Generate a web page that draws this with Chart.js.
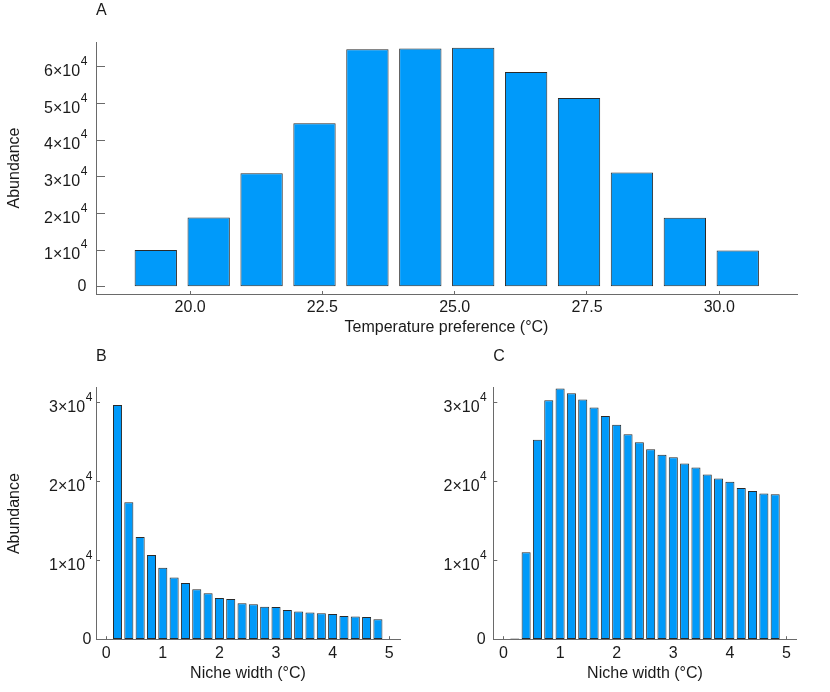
<!DOCTYPE html>
<html>
<head>
<meta charset="utf-8">
<script src="https://cdn.jsdelivr.net/npm/chart.js@4.4.1/dist/chart.umd.min.js"></script>
<style>
  body { margin: 0; background: #fff; }
  #wrap { position: relative; width: 830px; height: 692px; }
  canvas { position: absolute; }
</style>
</head>
<body>
<div id="wrap">
  <canvas id="chartA" width="830" height="340" style="left:0;top:0"></canvas>
  <canvas id="chartB" width="415" height="352" style="left:0;top:340px"></canvas>
  <canvas id="chartC" width="415" height="352" style="left:415px;top:340px"></canvas>
</div>
<script>
// panel A: temperature preference
const tempBins = [19.35, 20.35, 21.35, 22.35, 23.35, 24.35, 25.35, 26.35, 27.35, 28.35, 29.35, 30.35];
const tempAbundance = [10000, 18900, 31000, 44600, 64800, 65000, 65200, 58600, 51500, 31200, 18800, 9900];

// panels B and C: niche width
const widthBins = [0.2, 0.4, 0.6, 0.8, 1.0, 1.2, 1.4, 1.6, 1.8, 2.0, 2.2, 2.4,
                   2.6, 2.8, 3.0, 3.2, 3.4, 3.6, 3.8, 4.0, 4.2, 4.4, 4.6, 4.8];
const widthAbundanceB = [29700, 17400, 13000, 10700, 9100, 7840, 7160, 6360, 5850, 5250, 5130, 4580,
                         4450, 4150, 4110, 3730, 3560, 3430, 3310, 3220, 2970, 2920, 2840, 2580];
const widthAbundanceC = [130, 11060, 25300, 30300, 31800, 31200, 30400, 29400, 28300, 27200, 26000, 25000,
                         24100, 23400, 23100, 22300, 21800, 20900, 20400, 20000, 19200, 18800, 18500, 18400];

// ticks
const xTicksA = [20, 22.5, 25, 27.5, 30];
const yTicksA = [0, 10000, 20000, 30000, 40000, 50000, 60000];
const xTicksBC = [0, 1, 2, 3, 4, 5];
const yTicksBC = [0, 10000, 20000, 30000];
const tickExponent = 4;

const FAMILY = '"Liberation Sans", Arial, Helvetica, sans-serif';
const TEXT = '#1a1a1a';
const AXIS = '#6a6a6a';
const BAR = '#009AFA';
const BAR_EDGE = '#2a2a2a';

Chart.defaults.font.family = FAMILY;
Chart.defaults.font.size = 16;
Chart.defaults.color = TEXT;

// y tick labels like 3×10^4 with a raised exponent
const sciLabels = {
  id: 'sciLabels',
  afterDraw(chart, args, opts) {
    const s = chart.scales.y, ctx = chart.ctx;
    const x = s.right - opts.gap;
    ctx.save();
    ctx.fillStyle = TEXT;
    ctx.textAlign = 'right';
    s.ticks.forEach(t => {
      const y = s.getPixelForValue(t.value);
      if (t.value === 0) {
        ctx.font = '16px ' + FAMILY;
        ctx.textBaseline = 'middle';
        ctx.fillText('0', x - 1, y);
        return;
      }
      ctx.textBaseline = 'alphabetic';
      ctx.font = '12px ' + FAMILY;
      const sup = String(tickExponent);
      const w = ctx.measureText(sup).width;
      ctx.fillText(sup, x, y - 1.7);
      ctx.font = '16px ' + FAMILY;
      ctx.fillText((t.value / Math.pow(10, tickExponent)) + '\u00d710', x - w - 0.5, y + 9.3);
    });
    ctx.restore();
  }
};

const panelLetter = {
  id: 'panelLetter',
  afterDraw(chart, args, opts) {
    const ctx = chart.ctx;
    ctx.save();
    ctx.font = '16px ' + FAMILY;
    ctx.fillStyle = TEXT;
    ctx.textAlign = 'left';
    ctx.textBaseline = 'alphabetic';
    ctx.fillText(opts.text, chart.chartArea.left, chart.chartArea.top - 27);
    ctx.restore();
  }
};

Chart.register(sciLabels, panelLetter);

function makePanel(id, p) {
  const points = p.xs.map((x, i) => ({ x: x, y: p.ys[i] }));
  return new Chart(document.getElementById(id), {
    type: 'bar',
    data: {
      datasets: [{
        data: points,
        backgroundColor: BAR,
        borderColor: BAR_EDGE,
        borderWidth: 1,
        borderSkipped: false,
        barPercentage: 0.8,
        categoryPercentage: 1
      }]
    },
    options: {
      responsive: false,
      animation: false,
      layout: { padding: { top: p.top, right: p.right, left: 0, bottom: 0 } },
      plugins: {
        legend: { display: false },
        tooltip: { enabled: false },
        sciLabels: { gap: p.gap },
        panelLetter: { text: p.letter }
      },
      scales: {
        x: {
          type: 'linear',
          offset: false,
          min: p.xMin,
          max: p.xMax,
          afterBuildTicks: s => { s.ticks = p.xTicks.map(v => ({ value: v })); },
          afterFit: s => { s.height = p.xHeight; },
          border: { display: true, color: AXIS, width: 1 },
          grid: { offset: false, drawOnChartArea: false, drawTicks: true, tickLength: p.xTickLen, tickColor: AXIS },
          ticks: { padding: p.xPad, maxRotation: 0, autoSkip: false, callback: p.xFormat },
          title: { display: true, text: p.xTitle, padding: { top: 0, bottom: p.xTitlePad } }
        },
        y: {
          min: p.yMin,
          max: p.yMax,
          afterBuildTicks: s => { s.ticks = p.yTicks.map(v => ({ value: v })); },
          afterFit: s => { s.width = p.yWidth; },
          border: { display: true, color: AXIS, width: 1 },
          grid: { drawOnChartArea: false, drawTicks: true, tickLength: p.yTickLen, tickColor: AXIS },
          ticks: { display: false },
          title: { display: p.yTitle !== '', text: p.yTitle, padding: { top: 5.4, bottom: 0 } }
        }
      }
    }
  });
}

makePanel('chartA', {
  letter: 'A', xs: tempBins, ys: tempAbundance,
  xMin: 18.22, xMax: 31.47, yMin: -2000, yMax: 66800,
  xTicks: xTicksA, yTicks: yTicksA, xFormat: v => v.toFixed(1),
  top: 42, right: 33, xHeight: 46, yWidth: 96,
  xTickLen: -3, yTickLen: -9, xPad: 6.9, gap: 8.7, xTitlePad: 3,
  xTitle: 'Temperature preference (\u00b0C)', yTitle: 'Abundance'
});

makePanel('chartB', {
  letter: 'B', xs: widthBins, ys: widthAbundanceB,
  xMin: -0.18, xMax: 5.19, yMin: 0, yMax: 31900,
  xTicks: xTicksBC, yTicks: yTicksBC, xFormat: v => String(v),
  top: 47.7, right: 15, xHeight: 52.5, yWidth: 96,
  xTickLen: -3.3, yTickLen: -4, xPad: 7.5, gap: 3.7, xTitlePad: 8.4,
  xTitle: 'Niche width (\u00b0C)', yTitle: 'Abundance'
});

makePanel('chartC', {
  letter: 'C', xs: widthBins, ys: widthAbundanceC,
  xMin: -0.18, xMax: 5.18, yMin: 0, yMax: 31900,
  xTicks: xTicksBC, yTicks: yTicksBC, xFormat: v => String(v),
  top: 47.7, right: 33.3, xHeight: 52.5, yWidth: 78.3,
  xTickLen: -3.3, yTickLen: -4, xPad: 7.5, gap: 6.6, xTitlePad: 8.4,
  xTitle: 'Niche width (\u00b0C)', yTitle: ''
});
</script>
</body>
</html>
